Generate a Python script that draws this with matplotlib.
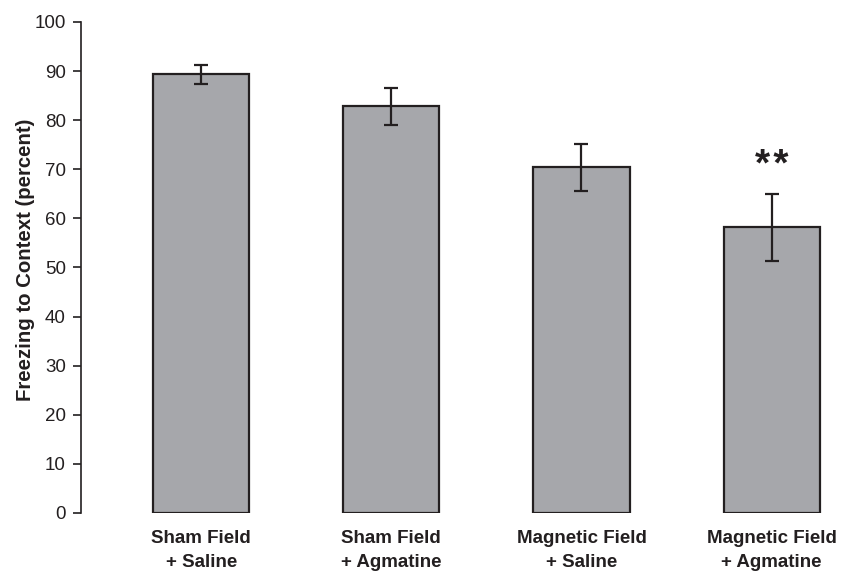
import matplotlib
matplotlib.use("Agg")
import matplotlib.pyplot as plt
import numpy as np

groups = ["Sham Field\n+ Saline", "Sham Field\n+ Agmatine",
          "Magnetic Field\n+ Saline", "Magnetic Field\n+ Agmatine"]
freezing = [89.3, 82.8, 70.4, 58.2]
sem = [2.0, 3.7, 4.8, 6.8]
yticks = [0, 10, 20, 30, 40, 50, 60, 70, 80, 90, 100]

ink = "#231f20"
plt.rcParams['font.family'] = ['Liberation Sans', 'DejaVu Sans']

fig = plt.figure(figsize=(8.42, 5.71), dpi=100)
ax = fig.add_axes([0.0962, 0.1016, 0.9038, 0.86])

x = np.arange(len(groups))
ax.bar(x, freezing, width=0.505, color="#a6a7ab", edgecolor=ink, linewidth=1.6,
       yerr=sem, error_kw=dict(ecolor=ink, elinewidth=1.6, capsize=5, capthick=1.6))

# significance marker above the last bar
ax.text(x[3], 70.6, "*\u200a*", ha="center", va="center", fontsize=28,
        fontweight="bold", color=ink)

ax.set_xlim(-0.632, 3.37)
ax.set_ylim(0, 100)
ax.set_yticks(yticks)
ax.set_xticks(x)
ax.set_xticklabels(groups, fontsize=13.5, fontweight="bold", color=ink,
                   linespacing=1.55)
ax.tick_params(axis="x", length=0, pad=12)
ax.tick_params(axis="y", length=6, width=1.2, color=ink, labelsize=13.5,
               labelcolor=ink, pad=5)
ax.set_ylabel("Freezing to Context (percent)", fontsize=14.7, fontweight="bold",
              color=ink)
ax.yaxis.set_label_coords(-0.061, 0.515)

for s in ["top", "right", "bottom"]:
    ax.spines[s].set_visible(False)
ax.spines["left"].set_color(ink)
ax.spines["left"].set_linewidth(1.2)

fig.savefig("out.png", dpi=100)
